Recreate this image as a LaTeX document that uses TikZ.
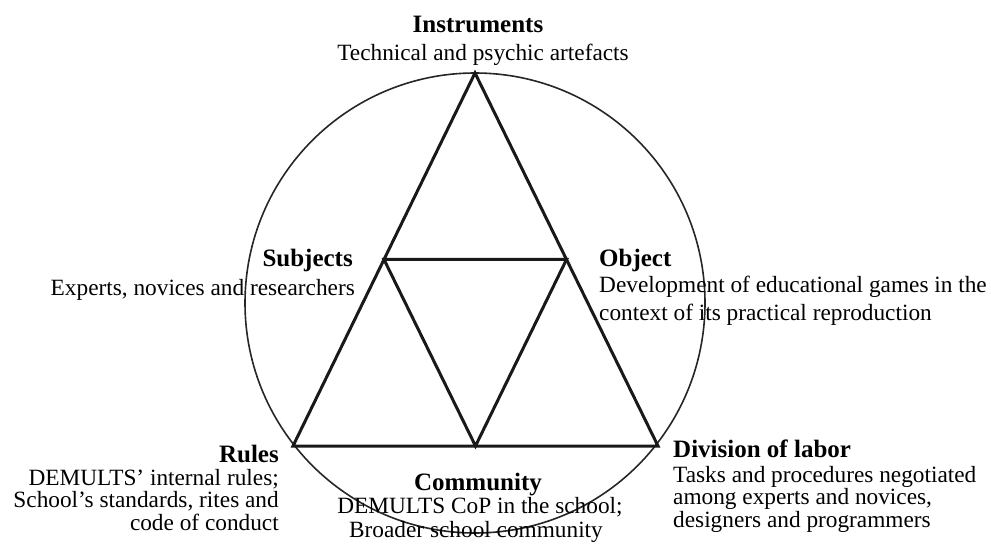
\documentclass[tikz,border=0pt]{standalone}
\usepackage{fontspec}
\setmainfont{Liberation Serif}
\usetikzlibrary{calc}
\begin{document}
\begin{tikzpicture}[x=1pt,y=-1pt,
  ttl/.style={inner sep=0pt,font=\fontsize{25}{25}\selectfont\bfseries},
  txt/.style={inner sep=0pt,font=\fontsize{23.3}{23}\selectfont},
  tri/.style={line width=3pt,line join=miter,draw=black!90},
  ring/.style={line width=1.6pt,draw=black!85}]
\useasboundingbox (0,0) rectangle (991,548);
% geometry
\coordinate (C) at (475,303);
\coordinate (A) at (475,73);
\coordinate (L) at (293,446);
\coordinate (R) at (658,446);
\coordinate (S) at ($(A)!0.5!(L)$);
\coordinate (O) at ($(A)!0.5!(R)$);
\coordinate (M) at ($(L)!0.5!(R)$);
\draw[ring] (C) circle[radius=230];
\draw[tri] (A) -- (L) -- (R) -- cycle;
\draw[tri] (S) -- (O) -- (M) -- cycle;
% Instruments
\node[ttl,anchor=base] (ins) at (478,33) {Instruments};
\node[txt,anchor=base] (ins1) at (483,61) {Technical and psychic artefacts};
% Subjects
\node[ttl,anchor=base east] (sub) at (353,267) {Subjects};
\node[txt,anchor=base east] (sub1) at (355,295) {Experts, novices and researchers};
% Object
\node[ttl,anchor=base west] (obj) at (599,267) {Object};
\node[txt,anchor=base west] (obj1) at (599,293) {Development of educational games in the};
\node[txt,anchor=base west] (obj2) at (599,320) {context of its practical reproduction};
% Rules
\node[ttl,anchor=base east] (rul) at (279,462) {Rules};
\node[txt,anchor=base east] (rul1) at (279,485) {DEMULTS’ internal rules;};
\node[txt,anchor=base east] (rul2) at (279,507) {School’s standards, rites and};
\node[txt,anchor=base east] (rul3) at (279,530) {code of conduct};
% Community
\node[ttl,anchor=base] (com) at (478,490) {Community};
\node[txt,anchor=base] (com1) at (480,513) {DEMULTS CoP in the school;};
\node[txt,anchor=base] (com2) at (476,537) {Broader school community};
% Division of labor
\node[ttl,anchor=base west] (div) at (673,457) {Division of labor};
\node[txt,anchor=base west] (div1) at (673,482) {Tasks and procedures negotiated};
\node[txt,anchor=base west] (div2) at (673,504) {among experts and novices,};
\node[txt,anchor=base west] (div3) at (673,527) {designers and programmers};
\end{tikzpicture}
\end{document}
